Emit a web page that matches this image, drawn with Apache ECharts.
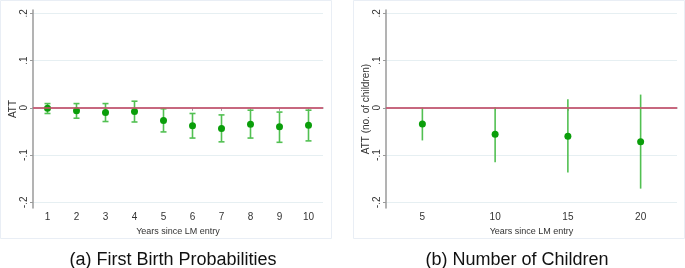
<!DOCTYPE html>
<html>
<head>
<meta charset="utf-8">
<script src="https://cdn.jsdelivr.net/npm/echarts@6/dist/echarts.min.js"></script>
<style>
  html, body { margin: 0; padding: 0; background: #fff; }
  #chart { width: 685px; height: 268px; }
</style>
</head>
<body>
<div id="chart"></div>
<script>
// panel (a): first birth probabilities
var yearsA = [1, 2, 3, 4, 5, 6, 7, 8, 9, 10];
var attA = [-0.001, -0.006, -0.010, -0.008, -0.027, -0.038, -0.044, -0.035, -0.040, -0.037];
var lowA = [-0.012, -0.022, -0.029, -0.030, -0.051, -0.064, -0.072, -0.064, -0.073, -0.070];
var highA = [0.009, 0.009, 0.009, 0.014, -0.002, -0.012, -0.015, -0.005, -0.009, -0.005];

// panel (b): number of children
var yearsB = [5, 10, 15, 20];
var attB = [-0.034, -0.056, -0.060, -0.072];
var lowB = [-0.069, -0.115, -0.137, -0.171];
var highB = [0.000, 0.001, 0.018, 0.028];

var yTicks = [-0.2, -0.1, 0, 0.1, 0.2];
var captions = ['(a) First Birth Probabilities', '(b) Number of Children'];
var xTitle = 'Years since LM entry';
var yTitles = ['ATT', 'ATT (no. of children)'];

var pointColor = '#0a9e0a';
var barColor = '#52c052';
var zeroColor = '#cf4f6e';
var axisColor = '#9a9a9a';
var textColor = '#333';
var font = 'Liberation Sans, Arial, sans-serif';

function fmtY(v) {
  if (Math.abs(v) < 1e-9) return '0';
  var s = String(Math.round(v * 10) / 10);
  return s.replace('0.', '.');
}

function zip3(x, a, b) {
  return x.map(function (v, i) { return [v, a[i], b[i]]; });
}
function zip2(x, a) {
  return x.map(function (v, i) { return [v, a[i]]; });
}

function ciSeries(idx, data, cap) {
  return {
    type: 'custom',
    xAxisIndex: idx,
    yAxisIndex: idx,
    z: 3,
    data: data,
    renderItem: function (params, api) {
      var x = api.value(0);
      var lo = api.coord([x, api.value(1)]);
      var hi = api.coord([x, api.value(2)]);
      var style = { stroke: barColor, lineWidth: 1.6 };
      var kids = [{ type: 'line', shape: { x1: lo[0], y1: lo[1], x2: hi[0], y2: hi[1] }, style: style }];
      if (cap) {
        kids.push({ type: 'line', shape: { x1: lo[0] - 3, y1: lo[1], x2: lo[0] + 3, y2: lo[1] }, style: style });
        kids.push({ type: 'line', shape: { x1: hi[0] - 3, y1: hi[1], x2: hi[0] + 3, y2: hi[1] }, style: style });
      }
      return { type: 'group', children: kids };
    }
  };
}

function xAxisFor(idx, min, max, ticks) {
  return {
    gridIndex: idx,
    type: 'value',
    min: min,
    max: max,
    name: xTitle,
    nameLocation: 'middle',
    nameGap: 18,
    nameTextStyle: { color: textColor, fontSize: 9, fontFamily: font },
    axisLine: { lineStyle: { color: axisColor, width: 1.5 } },
    axisTick: { show: true, length: 3, customValues: ticks, lineStyle: { color: axisColor } },
    axisLabel: { customValues: ticks, color: textColor, fontSize: 10, fontFamily: font, margin: 4 },
    splitLine: { show: false }
  };
}

function yAxisFor(idx, gap) {
  return {
    gridIndex: idx,
    type: 'value',
    min: -0.212,
    max: 0.207,
    name: yTitles[idx],
    nameLocation: 'middle',
    nameRotate: 90,
    nameGap: gap,
    nameTextStyle: { color: textColor, fontSize: 10, fontFamily: font },
    axisLine: { show: true, lineStyle: { color: axisColor, width: 1.5 } },
    axisTick: { show: true, length: 3, customValues: yTicks, lineStyle: { color: axisColor } },
    axisLabel: { customValues: yTicks, rotate: 90, formatter: fmtY, color: textColor, fontSize: 10, fontFamily: font, margin: 4 },
    splitLine: { show: true, lineStyle: { color: '#e6eff2', width: 1 } }
  };
}

function zeroLine(idx) {
  return {
    type: 'line',
    xAxisIndex: idx,
    yAxisIndex: idx,
    data: [],
    silent: true,
    markLine: {
      symbol: 'none',
      silent: true,
      label: { show: false },
      lineStyle: { color: zeroColor, width: 1.6, type: 'solid' },
      data: [{ yAxis: 0 }]
    }
  };
}

function pointSeries(idx, data) {
  return {
    type: 'scatter',
    xAxisIndex: idx,
    yAxisIndex: idx,
    z: 4,
    symbol: 'circle',
    symbolSize: 7,
    itemStyle: { color: pointColor, opacity: 1 },
    data: data
  };
}

var chart = echarts.init(document.getElementById('chart'), null, { renderer: 'canvas' });
chart.setOption({
  animation: false,
  backgroundColor: '#fff',
  title: [
    { text: captions[0], left: 168, top: 246, textAlign: 'center',
      textStyle: { fontSize: 18, fontWeight: 'normal', color: '#111', fontFamily: font } },
    { text: captions[1], left: 512, top: 246, textAlign: 'center',
      textStyle: { fontSize: 18, fontWeight: 'normal', color: '#111', fontFamily: font } }
  ],
  graphic: [
    { type: 'rect', shape: { x: 0.5, y: 0.5, width: 331, height: 238 }, style: { fill: 'none', stroke: '#e9eef5' }, silent: true },
    { type: 'rect', shape: { x: 353.5, y: 0.5, width: 331, height: 238 }, style: { fill: 'none', stroke: '#e9eef5' }, silent: true }
  ],
  grid: [
    { left: 33, top: 10, width: 290, height: 198 },
    { left: 386, top: 10, width: 291, height: 198 }
  ],
  xAxis: [
    xAxisFor(0, 0.5, 10.5, yearsA),
    xAxisFor(1, 2.5, 22.5, yearsB)
  ],
  yAxis: [
    yAxisFor(0, 13),
    yAxisFor(1, 14)
  ],
  series: [
    zeroLine(0),
    ciSeries(0, zip3(yearsA, lowA, highA), true),
    pointSeries(0, zip2(yearsA, attA)),
    zeroLine(1),
    ciSeries(1, zip3(yearsB, lowB, highB), false),
    pointSeries(1, zip2(yearsB, attB))
  ]
});
</script>
</body>
</html>
